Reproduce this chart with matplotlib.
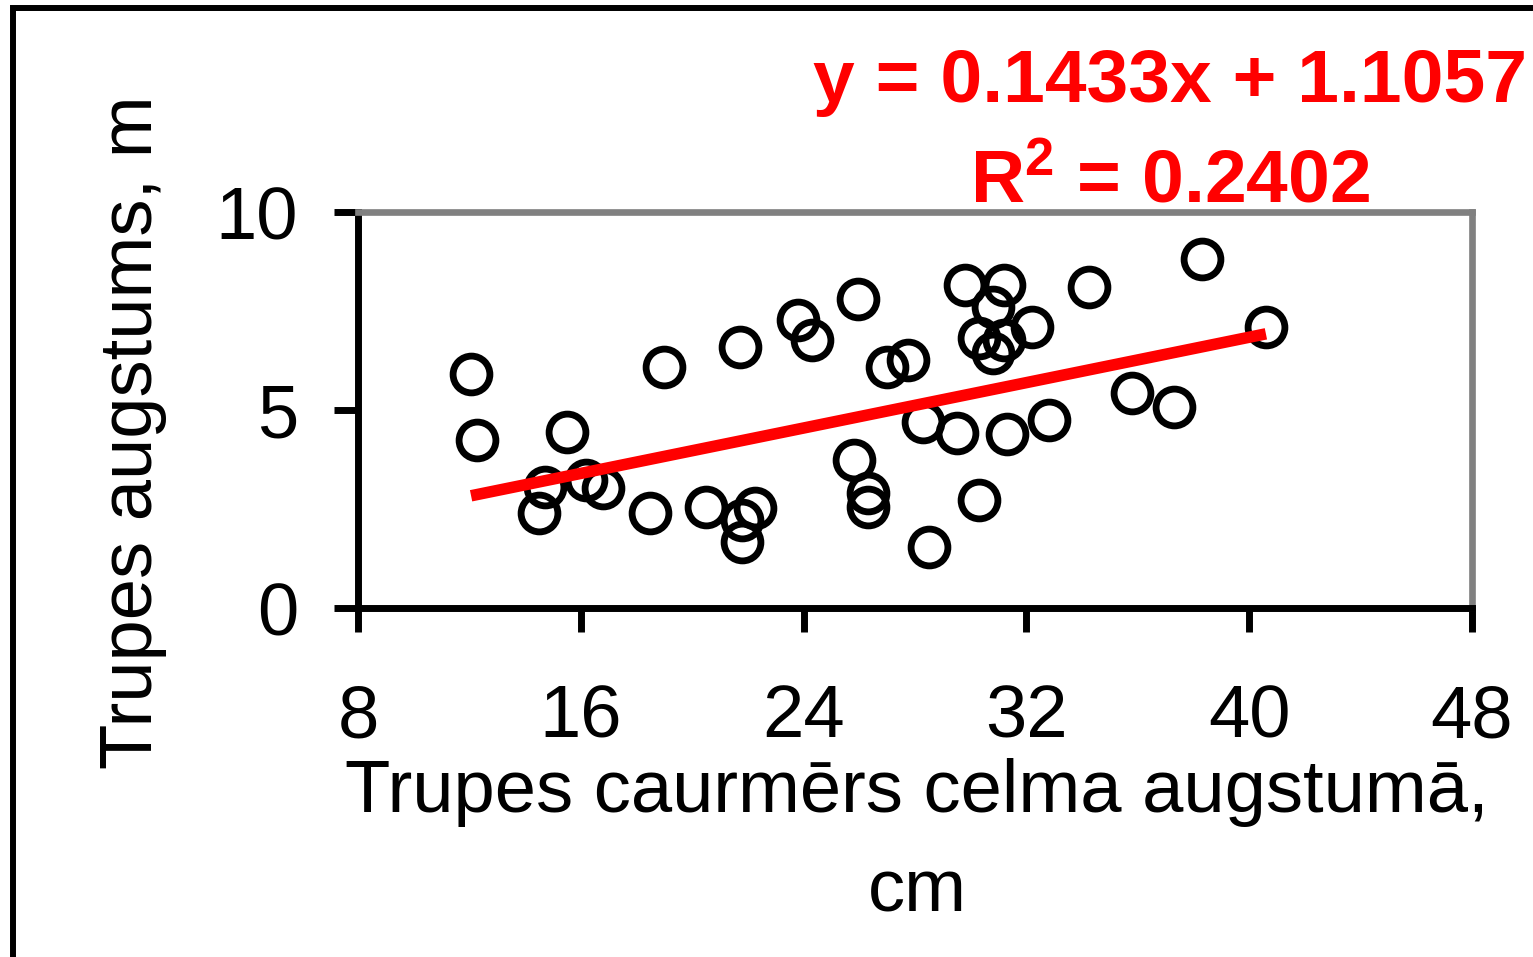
import matplotlib
matplotlib.use("Agg")
import matplotlib.pyplot as plt
from matplotlib.lines import Line2D
import numpy as np

plt.rcParams['font.family'] = ['Liberation Sans', 'DejaVu Sans']
plt.rcParams['mathtext.fontset'] = 'custom'
plt.rcParams['mathtext.rm'] = 'Liberation Sans'
plt.rcParams['mathtext.bf'] = 'Liberation Sans:bold'

# ---- data ----
diameter_cm = [12.06, 12.27, 15.5, 14.7, 14.5, 16.2, 16.8, 18.5, 19.0, 20.5,
               22.25, 21.8, 21.8, 21.7, 23.8, 24.3, 25.95, 27.0, 27.75, 29.8,
               31.2, 30.8, 30.3, 31.2, 30.8, 32.2, 34.25, 38.3, 40.6, 35.8,
               37.3, 28.3, 29.5, 31.3, 32.8, 25.8, 26.3, 26.3, 30.3, 28.5]
height_m = [5.91, 4.24, 4.44, 3.06, 2.40, 3.23, 3.03, 2.40, 6.09, 2.55,
            2.52, 2.22, 1.67, 6.59, 7.27, 6.77, 7.80, 6.09, 6.26, 8.16,
            8.16, 7.60, 6.82, 6.77, 6.44, 7.10, 8.11, 8.81, 7.10, 5.43,
            5.08, 4.70, 4.42, 4.39, 4.75, 3.74, 2.90, 2.55, 2.73, 1.54]
slope = 0.1433
intercept = 1.1057
r_squared = 0.2402
x_ticks = [8, 16, 24, 32, 40, 48]
y_ticks = [0, 5, 10]
x_label = "Trupes caurmērs celma augstumā,\ncm"
y_label = "Trupes augstums, m"

W, H = 1533, 957
fig = plt.figure(figsize=(W / 100, H / 100), dpi=100)
fig.patch.set_facecolor('white')
ax = fig.add_axes([358 / W, 1 - 608 / H, (1472 - 358) / W, (608 - 212) / H])

ax.plot(diameter_cm, height_m, linestyle='none', marker='o', markersize=26.5,
        markerfacecolor='none', markeredgecolor='black', markeredgewidth=4.9,
        zorder=3, clip_on=False)

xs = np.array([min(diameter_cm), max(diameter_cm)])
ax.plot(xs, slope * xs + intercept, color='#ff0000', linewidth=8.3,
        solid_capstyle='butt', zorder=4)

ax.set_xlim(8, 48)
ax.set_ylim(0, 10)
ax.set_xticks(x_ticks)
ax.set_yticks(y_ticks)
ax.set_xticklabels([str(v) for v in x_ticks])
ax.set_yticklabels([str(v) for v in y_ticks])

for s in ['left', 'bottom']:
    ax.spines[s].set_color('black')
    ax.spines[s].set_linewidth(5)
for s in ['top', 'right']:
    ax.spines[s].set_color('#808080')
    ax.spines[s].set_linewidth(4.8)

ax.tick_params(axis='both', direction='out', length=17, width=5,
               color='black', labelsize=53.5)
ax.tick_params(axis='x', pad=37)
ax.tick_params(axis='y', pad=26)

ax.set_xlabel(x_label, fontsize=53.5, linespacing=1.55, va='top')
ax.xaxis.set_label_coords(0.502, -0.38)
ax.set_ylabel(y_label, fontsize=53.5, va='center')
ax.yaxis.set_label_coords(-0.202, 0.443)

ax.text(0.729, 1.278, f"y = {slope}x + {intercept}", transform=ax.transAxes,
        ha='center', va='baseline', fontsize=54, fontweight='bold',
        color='#ff0000')
ax.text(0.729, 1.023, r"$\mathbf{R^2}$" + f" = {r_squared}", transform=ax.transAxes,
        ha='center', va='baseline', fontsize=54, fontweight='bold',
        color='#ff0000')

# outer frame (left and top edges)
fig.add_artist(Line2D([13 / W, 13 / W, 1.0], [0.0, 1 - 8 / H, 1 - 8 / H],
                      transform=fig.transFigure, color='black', linewidth=4.3,
                      solid_joinstyle='miter'))

fig.savefig('out.png', dpi=100)
